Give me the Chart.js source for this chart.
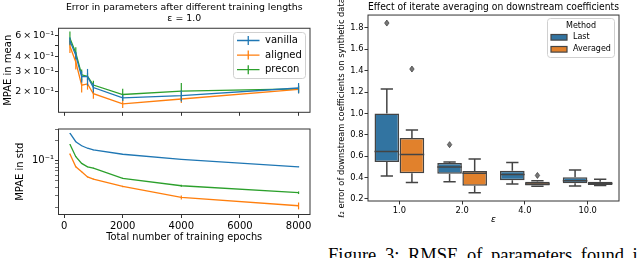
<!DOCTYPE html>
<html>
<head>
<meta charset="utf-8">
<script src="https://cdn.jsdelivr.net/npm/chart.js@4.4.1/dist/chart.umd.min.js"></script>
<style>
  body { margin: 0; background: #fff; width: 640px; height: 258px; overflow: hidden; position: relative; }
  canvas { position: absolute; }
  #caption { position: absolute; left: 328px; top: 245.5px; font: 18.5px 'Liberation Serif', serif; line-height: 18.5px;
             white-space: nowrap; word-spacing: 4px; color: #000; }
</style>
</head>
<body>
<canvas id="meanChart" width="320" height="120" style="left:0;top:0"></canvas>
<canvas id="stdChart" width="320" height="138" style="left:0;top:120px"></canvas>
<canvas id="boxChart" width="320" height="228" style="left:320px;top:0"></canvas>
<div id="caption">Figure 3:  RMSE of parameters found i</div>
<script>
// training length experiment
const epochs = [200, 400, 600, 800, 1000, 2000, 4000, 8000];
const vanillaMean = [0.545, 0.41, 0.27, 0.27, 0.218, 0.178, 0.186, 0.216];
const alignedMean = [0.49, 0.36, 0.228, 0.234, 0.193, 0.158, 0.174, 0.21];
const preconMean = [0.575, 0.43, 0.28, 0.272, 0.229, 0.19, 0.203, 0.212];
const vanillaMeanErr = [0.04, 0.03, 0.03, 0.044, 0.02, 0.01, 0.02, 0.022];
const alignedMeanErr = [0.06, 0.05, 0.03, 0.025, 0.018, 0.012, 0.013, 0.015];
const preconMeanErr = [0.08, 0.05, 0.03, 0.02, 0.02, 0.023, 0.035, 0.015];
const vanillaStd = [0.259, 0.193, 0.168, 0.154, 0.145, 0.125, 0.105, 0.081];
const alignedStd = [0.126, 0.081, 0.068, 0.057, 0.053, 0.041, 0.028, 0.021];
const preconStd = [0.177, 0.115, 0.091, 0.081, 0.077, 0.0543, 0.042, 0.033];
const vanillaStdErr = [0.002, 0.001, 0.001, 0.001, 0.001, 0.001, 0.0015, 0.0015];
const alignedStdErr = [0.002, 0.0015, 0.001, 0.001, 0.001, 0.001, 0.002, 0.0025];
const preconStdErr = [0.002, 0.0015, 0.001, 0.001, 0.001, 0.001, 0.0015, 0.0015];
const epochTicks = [0, 2000, 4000, 6000, 8000];
const meanTicks = [0.2, 0.3, 0.4, 0.5, 0.6];
const meanTickLabels = ['2\u2009×\u200910⁻¹', '3\u2009×\u200910⁻¹', '4\u2009×\u200910⁻¹', '', '6\u2009×\u200910⁻¹'];
const stdTicks = [0.02, 0.03, 0.04, 0.05, 0.06, 0.07, 0.08, 0.09, 0.1, 0.2, 0.3];

// iterate averaging experiment (box plot stats)
const epsilons = ['1.0', '2.0', '4.0', '10.0'];
const lastLow = [0.415, 0.36, 0.34, 0.322];
const lastQ1 = [0.545, 0.435, 0.375, 0.348];
const lastMedian = [0.643, 0.5, 0.428, 0.371];
const lastQ3 = [1.0, 0.537, 0.465, 0.402];
const lastHigh = [1.228, 0.545, 0.54, 0.471];
const lastOutliers = [[1.845], [0.708], [], []];
const avgLow = [0.353, 0.259, 0.32, 0.325];
const avgQ1 = [0.44, 0.324, 0.326, 0.33];
const avgMedian = [0.616, 0.44, 0.34, 0.345];
const avgQ3 = [0.77, 0.462, 0.36, 0.362];
const avgHigh = [0.845, 0.574, 0.37, 0.384];
const avgOutliers = [[1.415], [], [0.42], []];
const boxTicks = [0.2, 0.4, 0.6, 0.8, 1.0, 1.2, 1.4, 1.6, 1.8];
const boxYLabel = 'ℓ₂ error of downstream coefficients on synthetic data';

Chart.defaults.font.family = "'DejaVu Sans', sans-serif";
Chart.defaults.color = '#000';
Chart.defaults.animation = false;

const FRAME = '#333';
const EDGE = '#444';

const frame = {
  id: 'frame',
  afterDatasetsDraw(chart) {
    const {ctx, chartArea: a} = chart;
    ctx.save();
    ctx.strokeStyle = FRAME;
    ctx.lineWidth = 1;
    ctx.strokeRect(a.left, a.top, a.right - a.left, a.bottom - a.top);
    ctx.restore();
  }
};

const errorBars = {
  id: 'errorBars',
  afterDatasetDraw(chart, args) {
    const ds = chart.data.datasets[args.index];
    const ys = chart.scales.y;
    const {ctx} = chart;
    ctx.save();
    ctx.strokeStyle = ds.borderColor;
    ctx.lineWidth = 1.2;
    args.meta.data.forEach((pt, i) => {
      const v = ds.data[i].y, e = ds.errors[i];
      ctx.beginPath();
      ctx.moveTo(pt.x, ys.getPixelForValue(v - e));
      ctx.lineTo(pt.x, ys.getPixelForValue(v + e));
      ctx.stroke();
    });
    ctx.restore();
  }
};

const lineLegend = {
  id: 'lineLegend',
  afterDraw(chart) {
    const {ctx} = chart;
    const bx = 233.5, by = 32.5, bw = 72, bh = 46;
    ctx.save();
    ctx.fillStyle = 'rgba(255,255,255,0.8)';
    ctx.strokeStyle = '#d0d0d0';
    ctx.lineWidth = 1;
    ctx.beginPath();
    ctx.roundRect(bx, by, bw, bh, 3);
    ctx.fill();
    ctx.stroke();
    ctx.font = "10px 'DejaVu Sans'";
    ctx.textBaseline = 'middle';
    chart.data.datasets.forEach((ds, i) => {
      const y = 40.5 + i * 14.6;
      ctx.strokeStyle = ds.borderColor;
      ctx.lineWidth = 1.3;
      ctx.beginPath();
      ctx.moveTo(bx + 3.5, y); ctx.lineTo(bx + 26, y);
      ctx.moveTo(bx + 14.75, y - 4.5); ctx.lineTo(bx + 14.75, y + 4.5);
      ctx.stroke();
      ctx.fillStyle = '#000';
      ctx.fillText(ds.label, bx + 31.5, y);
    });
    ctx.restore();
  }
};

function lineSet(label, ys, errs, color) {
  return {
    label: label,
    data: epochs.map((x, i) => ({x: x, y: ys[i]})),
    errors: errs,
    borderColor: color,
    backgroundColor: color,
    borderWidth: 1.3,
    pointRadius: 0,
    tension: 0
  };
}

function epochAxis(showLabels) {
  return {
    type: 'linear', min: -190, max: 8390,
    afterBuildTicks: s => { s.ticks = epochTicks.map(v => ({value: v})); },
    ticks: {display: showLabels, autoSkip: false, padding: 2, font: {size: 10}, callback: v => String(v)},
    grid: {drawOnChartArea: false, tickLength: 3.5, tickColor: FRAME},
    border: {display: false}
  };
}

// top: MPAE in mean
const meanX = epochAxis(false);
meanX.afterFit = s => { s.height = 7.7; };
new Chart(document.getElementById('meanChart'), {
  type: 'line',
  data: {datasets: [
    lineSet('vanilla', vanillaMean, vanillaMeanErr, '#1f77b4'),
    lineSet('aligned', alignedMean, alignedMeanErr, '#ff7f0e'),
    lineSet('precon', preconMean, preconMeanErr, '#2ca02c')
  ]},
  options: {
    responsive: false, events: [],
    layout: {padding: {left: 0, right: 10, top: 0, bottom: 0}},
    plugins: {
      legend: {display: false}, tooltip: {enabled: false},
      title: {display: true, fullSize: false, text: ['Error in parameters after different training lengths', 'ε = 1.0'],
              font: {size: 9.4, weight: 'normal'}, color: '#000', padding: {top: 1.9, bottom: 3.8}}
    },
    scales: {
      x: meanX,
      y: {
        type: 'logarithmic', min: 0.134, max: 0.698,
        afterBuildTicks: s => { s.ticks = meanTicks.map(v => ({value: v})); },
        ticks: {autoSkip: false, padding: 1, font: {size: 9.5},
                callback: v => meanTickLabels[meanTicks.indexOf(v)] || ''},
        grid: {drawOnChartArea: false, tickLength: 3.5, tickColor: FRAME},
        border: {display: false},
        title: {display: true, text: 'MPAE in mean', font: {size: 10}, padding: {top: 2.3, bottom: 0}},
        afterFit: s => { s.width = 58.5; }
      }
    }
  },
  plugins: [errorBars, frame, lineLegend]
});

// bottom: MPAE in std
const stdX = epochAxis(true);
stdX.title = {display: true, text: 'Total number of training epochs', font: {size: 9.8}, padding: {top: 0, bottom: 14.6}};
stdX.afterFit = s => { s.height = 43.5; };
new Chart(document.getElementById('stdChart'), {
  type: 'line',
  data: {datasets: [
    lineSet('vanilla', vanillaStd, vanillaStdErr, '#1f77b4'),
    lineSet('aligned', alignedStd, alignedStdErr, '#ff7f0e'),
    lineSet('precon', preconStd, preconStdErr, '#2ca02c')
  ]},
  options: {
    responsive: false, events: [],
    layout: {padding: {left: 0, right: 10, top: 9, bottom: 0}},
    plugins: {legend: {display: false}, tooltip: {enabled: false}},
    scales: {
      x: stdX,
      y: {
        type: 'logarithmic', min: 0.0155, max: 0.30,
        afterBuildTicks: s => { s.ticks = stdTicks.map(v => ({value: v})); },
        ticks: {autoSkip: false, padding: 1, font: {size: 10}, callback: v => (v === 0.1 ? '10⁻¹' : '')},
        grid: {drawOnChartArea: false, tickLength: 3.5, tickColor: FRAME,
               tickWidth: c => (c.tick && c.tick.value === 0.1 ? 1 : 0.7)},
        border: {display: false},
        title: {display: true, text: 'MPAE in std', font: {size: 10}, padding: {top: 14.3, bottom: 0}},
        afterFit: s => { s.width = 58.5; }
      }
    }
  },
  plugins: [errorBars, frame]
});

// right: box plot
const boxParts = {
  id: 'boxParts',
  afterDatasetsDraw(chart) {
    const {ctx} = chart;
    const ys = chart.scales.y;
    const py = v => ys.getPixelForValue(v);
    chart.data.datasets.forEach((ds, di) => {
      chart.getDatasetMeta(di).data.forEach((bar, i) => {
        const x = bar.x, hw = bar.width / 2;
        ctx.save();
        ctx.strokeStyle = EDGE;
        ctx.lineWidth = 1.5;
        ctx.beginPath();
        ctx.moveTo(x, py(ds.q3[i])); ctx.lineTo(x, py(ds.high[i]));
        ctx.moveTo(x, py(ds.q1[i])); ctx.lineTo(x, py(ds.low[i]));
        ctx.moveTo(x - hw / 2, py(ds.high[i])); ctx.lineTo(x + hw / 2, py(ds.high[i]));
        ctx.moveTo(x - hw / 2, py(ds.low[i])); ctx.lineTo(x + hw / 2, py(ds.low[i]));
        ctx.moveTo(x - hw, py(ds.median[i])); ctx.lineTo(x + hw, py(ds.median[i]));
        ctx.stroke();
        ctx.fillStyle = '#777';
        ctx.lineWidth = 0.8;
        ds.outliers[i].forEach(v => {
          const y = py(v);
          ctx.beginPath();
          ctx.moveTo(x, y - 3); ctx.lineTo(x + 2.2, y); ctx.lineTo(x, y + 3); ctx.lineTo(x - 2.2, y);
          ctx.closePath();
          ctx.fill();
          ctx.stroke();
        });
        ctx.restore();
      });
    });
  }
};

const boxLegend = {
  id: 'boxLegend',
  afterDraw(chart) {
    const {ctx, chartArea: a} = chart;
    ctx.save();
    // rotated y label (drawn here so the long text is not squeezed)
    ctx.font = "8.3px 'DejaVu Sans'";
    ctx.fillStyle = '#000';
    ctx.textAlign = 'center';
    ctx.textBaseline = 'middle';
    ctx.save();
    ctx.translate(22, (a.top + a.bottom) / 2);
    ctx.rotate(-Math.PI / 2);
    ctx.fillText(boxYLabel, 0, 0);
    ctx.restore();

    const bx = 227.5, by = 18.5, bw = 67, bh = 39;
    ctx.fillStyle = 'rgba(255,255,255,0.8)';
    ctx.strokeStyle = '#d0d0d0';
    ctx.lineWidth = 1;
    ctx.beginPath();
    ctx.roundRect(bx, by, bw, bh, 3);
    ctx.fill();
    ctx.stroke();
    ctx.font = "8px 'DejaVu Sans'";
    ctx.fillStyle = '#000';
    ctx.fillText('Method', bx + bw / 2, 26);
    ctx.textAlign = 'left';
    chart.data.datasets.forEach((ds, i) => {
      const y = 37.3 + i * 12;
      ctx.fillStyle = ds.backgroundColor;
      ctx.strokeStyle = EDGE;
      ctx.lineWidth = 1.2;
      ctx.fillRect(bx + 3.5, y - 2.8, 16, 5.6);
      ctx.strokeRect(bx + 3.5, y - 2.8, 16, 5.6);
      ctx.fillStyle = '#000';
      ctx.fillText(ds.label, bx + 25.5, y);
    });
    ctx.restore();
  }
};

function boxSet(label, color, low, q1, med, q3, high, outs) {
  return {
    label: label,
    data: epsilons.map((e, i) => [q1[i], q3[i]]),
    low: low, q1: q1, median: med, q3: q3, high: high, outliers: outs,
    backgroundColor: color,
    borderColor: EDGE,
    borderWidth: 1.5,
    borderSkipped: false,
    categoryPercentage: 0.8,
    barPercentage: 0.98
  };
}

new Chart(document.getElementById('boxChart'), {
  type: 'bar',
  data: {
    labels: epsilons,
    datasets: [
      boxSet('Last', '#3274a1', lastLow, lastQ1, lastMedian, lastQ3, lastHigh, lastOutliers),
      boxSet('Averaged', '#e1812c', avgLow, avgQ1, avgMedian, avgQ3, avgHigh, avgOutliers)
    ]
  },
  options: {
    responsive: false, events: [],
    layout: {padding: {left: 0, right: 21, top: 0, bottom: 0}},
    plugins: {
      legend: {display: false}, tooltip: {enabled: false},
      title: {display: true, fullSize: false, text: 'Effect of iterate averaging on downstream coefficients',
              font: {size: 9.7, weight: 'normal'}, color: '#000', padding: {top: 1.4, bottom: 2}}
    },
    scales: {
      x: {
        ticks: {font: {size: 8.3}, padding: 1.5},
        grid: {drawOnChartArea: false, offset: false, tickLength: 3.5, tickColor: FRAME},
        border: {display: false},
        title: {display: true, text: 'ε', font: {size: 9, style: 'italic'}, padding: {top: 0, bottom: 2.6}},
        afterFit: s => { s.height = 27; }
      },
      y: {
        min: 0.181, max: 1.92,
        afterBuildTicks: s => { s.ticks = boxTicks.map(v => ({value: v})); },
        ticks: {autoSkip: false, font: {size: 8.3}, padding: 1, callback: v => v.toFixed(1)},
        grid: {drawOnChartArea: false, tickLength: 3.5, tickColor: FRAME},
        border: {display: false},
        afterFit: s => { s.width = 48; }
      }
    }
  },
  plugins: [boxParts, frame, boxLegend]
});
</script>
</body>
</html>
